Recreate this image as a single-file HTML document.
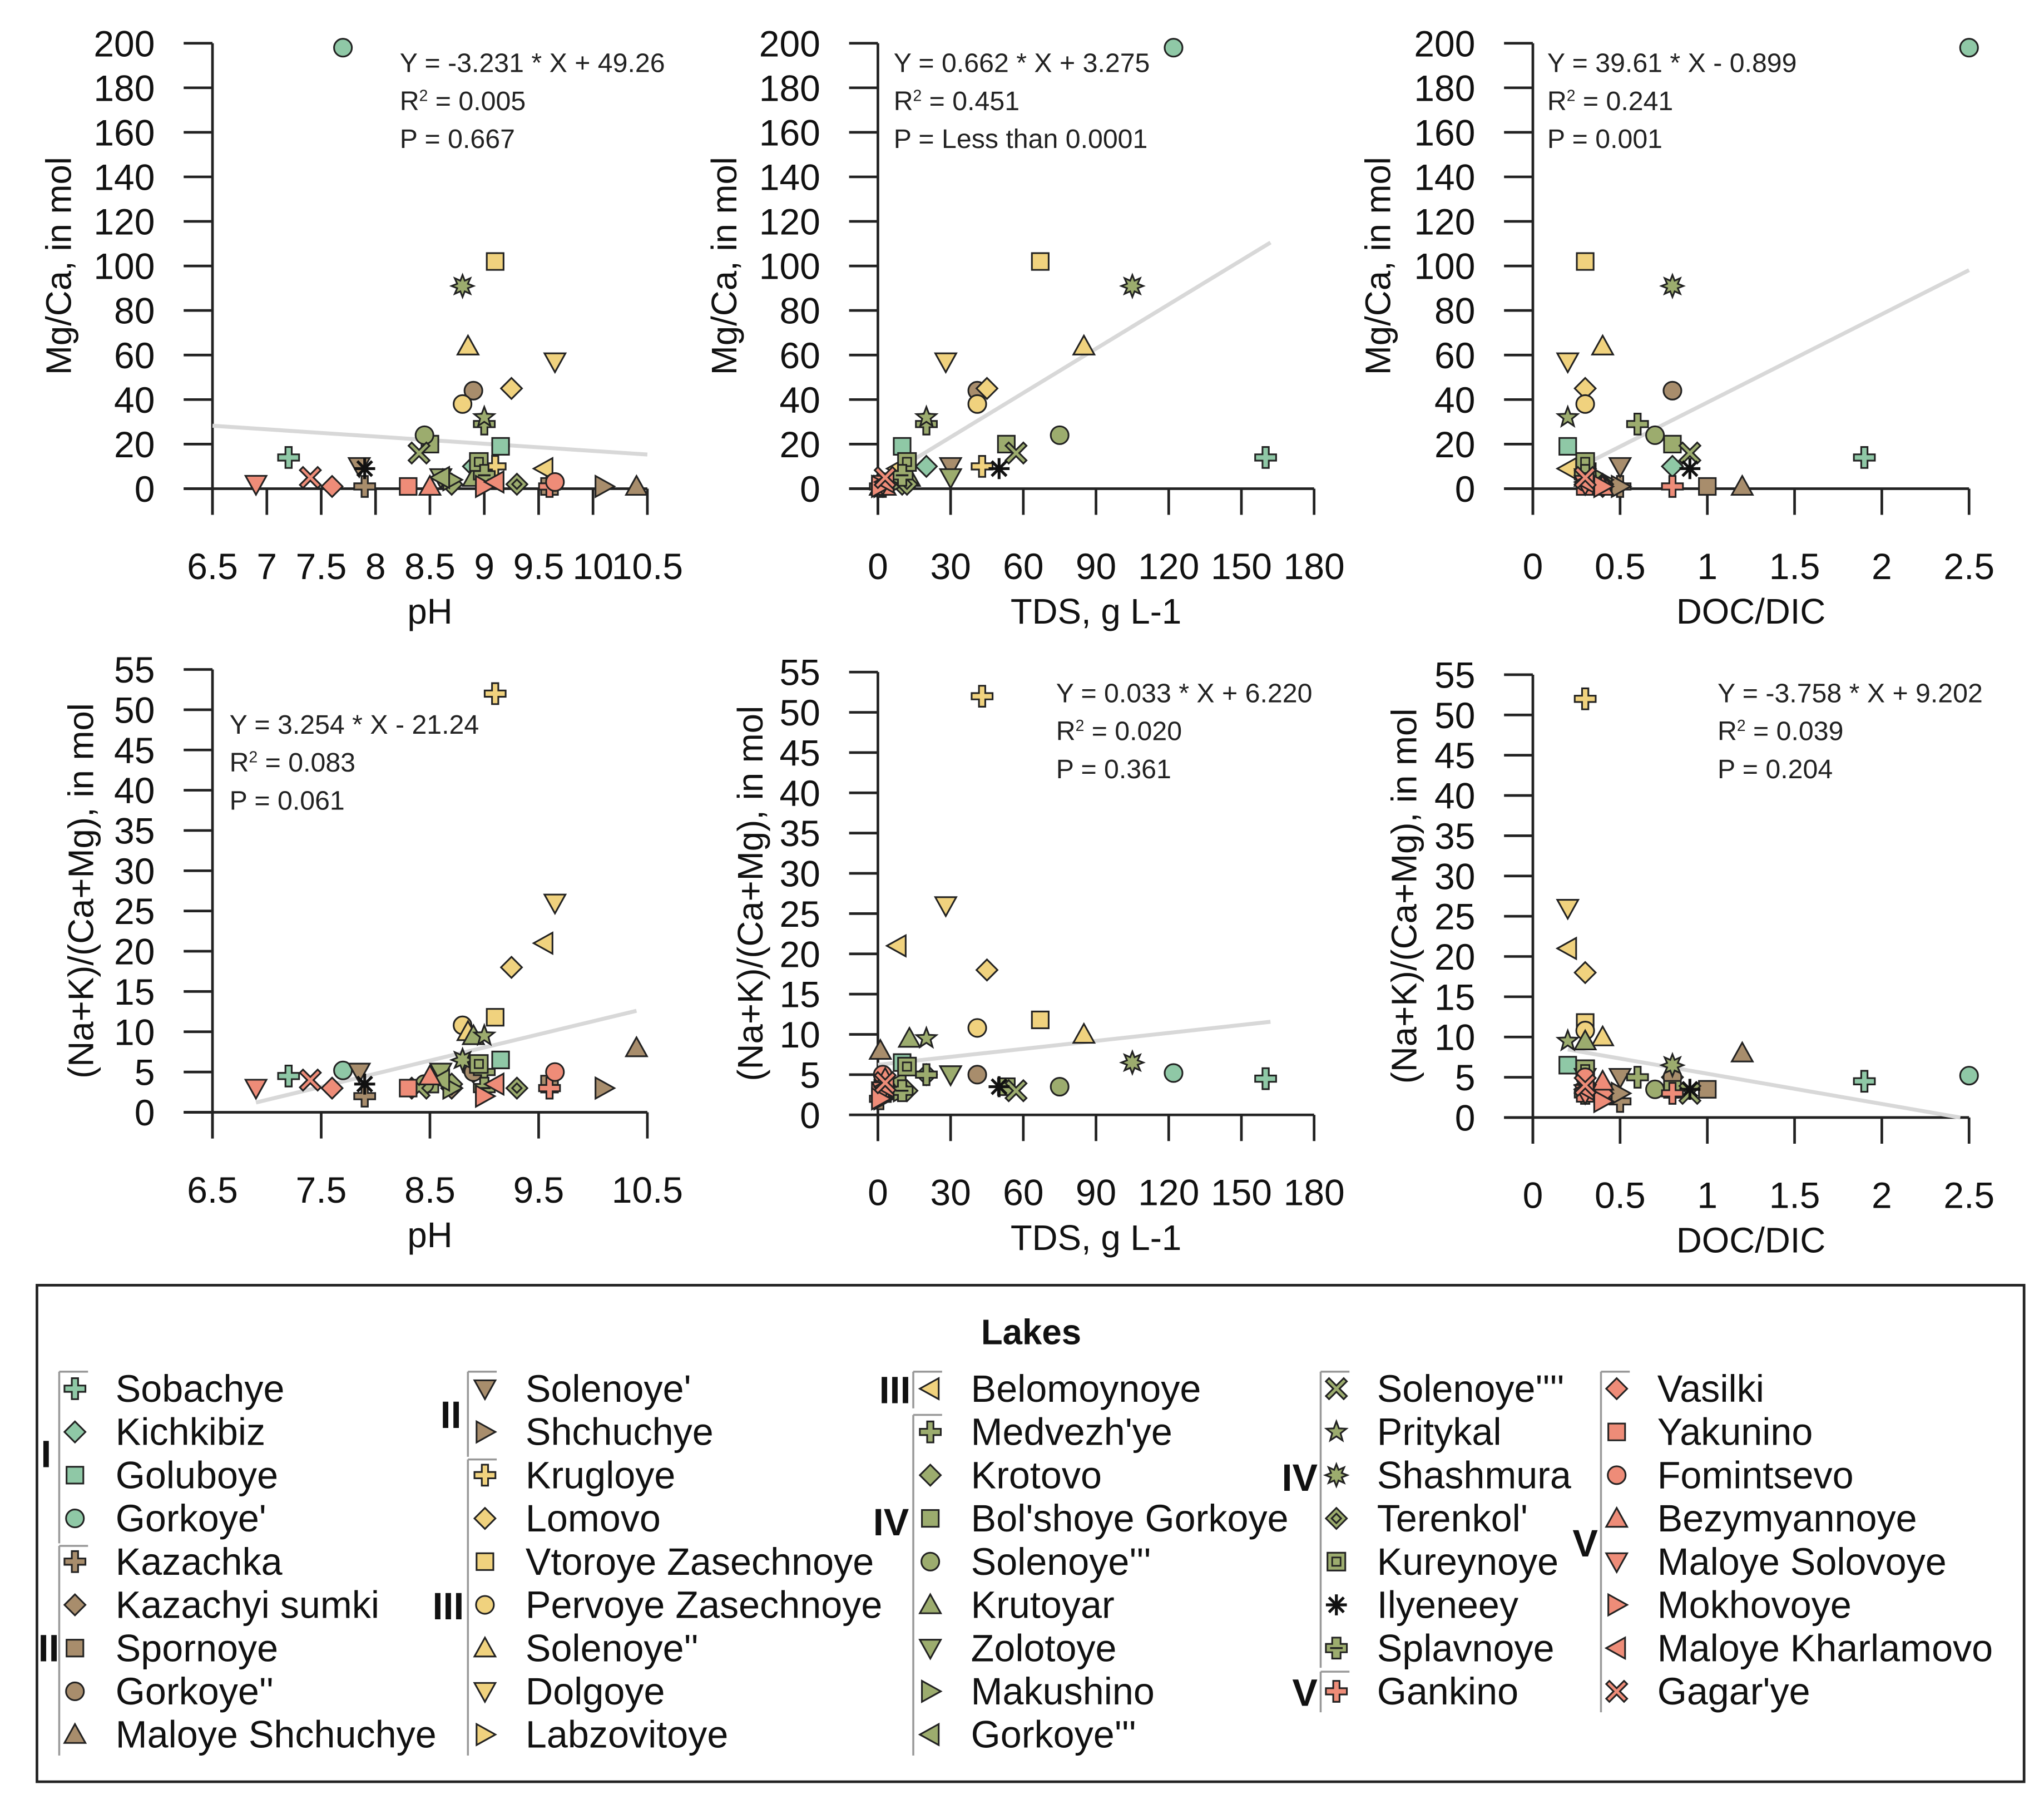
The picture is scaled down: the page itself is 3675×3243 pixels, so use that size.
<!DOCTYPE html>
<html><head><meta charset="utf-8"><style>
html,body{margin:0;padding:0;background:#fff;}
svg{display:block;font-family:"Liberation Sans",sans-serif;}
</style></head><body>
<svg id="chart" width="3675" height="3243" viewBox="0 0 1560 1377" xmlns="http://www.w3.org/2000/svg"></svg>
<script>
// ---- data (one entry per lake) ----
const lakeNames = ["Sobachye","Kichkibiz","Goluboye","Gorkoye'","Kazachka","Kazachyi sumki","Spornoye","Gorkoye''","Maloye Shchuchye","Solenoye'","Shchuchye","Krugloye","Lomovo","Vtoroye Zasechnoye","Pervoye Zasechnoye","Solenoye''","Dolgoye","Labzovitoye","Belomoynoye","Medvezh'ye","Krotovo","Bol'shoye Gorkoye","Solenoye'''","Krutoyar","Zolotoye","Makushino","Gorkoye'''","Solenoye''''","Pritykal","Shashmura","Terenkol'","Kureynoye","Ilyeneey","Splavnoye","Gankino","Vasilki","Yakunino","Fomintsevo","Bezymyannoye","Maloye Solovoye","Mokhovoye","Maloye Kharlamovo","Gagar'ye"];
const lakeGroups = [1,1,1,1,2,2,2,2,2,2,2,3,3,3,3,3,3,3,3,4,4,4,4,4,4,4,4,4,4,4,4,4,4,4,5,5,5,5,5,5,5,5,5];
const lakeShapes = ["plus","diamond","square","circle","plus","diamond","square","circle","tri-up","tri-down","tri-right","plus","diamond","square","circle","tri-up","tri-down","tri-right","tri-left","plus","diamond","square","circle","tri-up","tri-down","tri-right","tri-left","x","star","sun","fdiamond","fsquare","asterisk","tplus","plus","diamond","square","circle","tri-up","tri-down","tri-right","tri-left","x"];
const phValues    = [7.2,8.9,9.15,7.7,7.9,8.7,9.6,8.9,10.4,7.85,10.1,9.1,9.25,9.1,8.8,8.85,9.65,9.0,9.55,9.0,8.7,8.5,8.45,8.9,8.6,8.7,8.6,8.4,9.0,8.8,9.3,8.95,7.9,9.0,9.6,7.6,8.3,9.65,8.5,6.9,9.0,9.1,7.4];
const tdsValues   = [160,20,10,122,1,2,3,41,1,30,2,43,45,67,41,85,28,2,8,20,10,53,75,13,30,10,8,57,20,105,12,12,50,10,2,2,1,2,3,2,1,3,3];
const docValues   = [1.9,0.8,0.2,2.5,0.5,0.3,1.0,0.8,1.2,0.5,0.5,0.3,0.3,0.3,0.3,0.4,0.2,0.4,0.2,0.6,0.3,0.8,0.7,0.3,0.3,0.4,0.3,0.9,0.2,0.8,0.4,0.3,0.9,0.3,0.8,0.4,0.3,0.3,0.4,0.3,0.4,0.3,0.3];
const mgcaValues  = [14,10,19,198,1,2,1,44,1,10,1,10,45,102,38,64,57,1,9,29,2,20,24,5,5,4,5,16,32,91,2,12,9,6,1,1,1,3,1,2,1,3,5];
const nakValues   = [4.5,5,6.5,5.2,2,3,3.5,5,8,5,3,52,18,11.8,10.8,10,26,2,21,5,3.5,3.5,3.5,9.5,5,3,4,3,9.5,6.5,3,6,3.5,3,3,3,3,5,4.5,3,2,3.5,4];
// regression lines
const fitSlopes = [-3.231,0.662,39.61,3.254,0.033,-3.758];
const fitIntercepts = [49.26,3.275,-0.899,-21.24,6.220,9.202];
const fitRanges = [[6.5,10.5],[0,162],[0.2,2.5],[6.9,10.4],[0,162],[0.2,2.45]];
const annotTexts = [["Y = -3.231 * X + 49.26","0.005","P = 0.667"],["Y = 0.662 * X + 3.275","0.451","P = Less than 0.0001"],["Y = 39.61 * X - 0.899","0.241","P = 0.001"],["Y = 3.254 * X - 21.24","0.083","P = 0.061"],["Y = 0.033 * X + 6.220","0.020","P = 0.361"],["Y = -3.758 * X + 9.202","0.039","P = 0.204"]];
const phTicks = ["6.5","7","7.5","8","8.5","9","9.5","10","10.5"];
const phTicks2 = ["6.5","7.5","8.5","9.5","10.5"];
const tdsTicks = ["0","30","60","90","120","150","180"];
const docTicks = ["0","0.5","1","1.5","2","2.5"];
const mgTicks = [0,20,40,60,80,100,120,140,160,180,200];
const nakTicks = [0,5,10,15,20,25,30,35,40,45,50,55];

const groupColors = {1:"#8fc8a6",2:"#a88d6c",3:"#f0d27e",4:"#9cac6e",5:"#ee8c78"};
const NS="http://www.w3.org/2000/svg";
const svg=document.getElementById('chart');
function mk(tag,attrs,parent){const e=document.createElementNS(NS,tag);for(const k in attrs)e.setAttribute(k,attrs[k]);(parent||svg).appendChild(e);return e;}

function marker(g,shape,cx,cy,fill,r){
  const st={fill:fill,stroke:"#222","stroke-width":1.3};
  let el;
  const P=(pts)=>mk('polygon',Object.assign({points:pts.map(p=>(cx+p[0]*r)+','+(cy+p[1]*r)).join(' ')},st),g);
  switch(shape){
    case "circle": el=mk('circle',Object.assign({cx:cx,cy:cy,r:r*0.85},st),g);break;
    case "square": el=mk('rect',Object.assign({x:cx-r*0.8,y:cy-r*0.8,width:r*1.6,height:r*1.6},st),g);break;
    case "fsquare": el=mk('rect',Object.assign({x:cx-r*0.85,y:cy-r*0.85,width:r*1.7,height:r*1.7},st),g);
      mk('rect',{x:cx-r*0.4,y:cy-r*0.4,width:r*0.8,height:r*0.8,fill:"none",stroke:"#222","stroke-width":1.2},g);break;
    case "diamond": el=P([[0,-1],[1,0],[0,1],[-1,0]]);break;
    case "fdiamond": el=P([[0,-1],[1,0],[0,1],[-1,0]]);P([[0,-0.45],[0.45,0],[0,0.45],[-0.45,0]]);break;
    case "tri-up": el=P([[0,-1],[1,0.8],[-1,0.8]]);break;
    case "tri-down": el=P([[0,1],[1,-0.8],[-1,-0.8]]);break;
    case "tri-right": el=P([[1,0],[-0.8,-1],[-0.8,1]]);break;
    case "tri-left": el=P([[-1,0],[0.8,-1],[0.8,1]]);break;
    case "plus": el=P([[-0.3,-1],[0.3,-1],[0.3,-0.3],[1,-0.3],[1,0.3],[0.3,0.3],[0.3,1],[-0.3,1],[-0.3,0.3],[-1,0.3],[-1,-0.3],[-0.3,-0.3]]);break;
    case "tplus": el=P([[-0.4,-1],[0.4,-1],[0.4,-0.4],[1,-0.4],[1,0.4],[0.4,0.4],[0.4,1],[-0.4,1],[-0.4,0.4],[-1,0.4],[-1,-0.4],[-0.4,-0.4]]);
      mk('line',{x1:cx-r*0.6,y1:cy,x2:cx+r*0.6,y2:cy,stroke:"#222","stroke-width":1.5},g);break;
    case "x": {const a=0.3,b=1;el=P([[-b,-b+a],[-b+a,-b],[0,-a],[b-a,-b],[b,-b+a],[a,0],[b,b-a],[b-a,b],[0,a],[-b+a,b],[-b,b-a],[-a,0]]);break;}
    case "star": {const pts=[];for(let i=0;i<10;i++){const ang=-Math.PI/2+i*Math.PI/5;const rr=i%2?0.42:1;pts.push([rr*Math.cos(ang),rr*Math.sin(ang)]);}el=P(pts);break;}
    case "sun": {const pts=[];for(let i=0;i<16;i++){const ang=i*Math.PI/8;const rr=i%2?0.55:1.05;pts.push([rr*Math.cos(ang),rr*Math.sin(ang)]);}el=P(pts);break;}
    case "asterisk": for(let i=0;i<4;i++){const ang=i*Math.PI/4;mk('line',{x1:cx-r*Math.cos(ang),y1:cy-r*Math.sin(ang),x2:cx+r*Math.cos(ang),y2:cy+r*Math.sin(ang),stroke:"#111","stroke-width":2.2},g);}break;
  }
  return el;
}

// panels
const panels=[
 {x0:162,x1:494,xmin:6.5,xmax:10.5,yTop:33,yBot:373,ymax:200,xs:phValues,ys:mgcaValues,xt:phTicks,yt:mgTicks,xtitle:"pH",ytitle:"Mg/Ca, in mol",ytx:45,ann:[305,55],name:"ph-mgca"},
 {x0:670,x1:1003,xmin:0,xmax:180,yTop:33,yBot:373,ymax:200,xs:tdsValues,ys:mgcaValues,xt:tdsTicks,yt:mgTicks,xtitle:"TDS, g L-1",ytitle:"Mg/Ca, in mol",ytx:553,ann:[682,55],name:"tds-mgca"},
 {x0:1170,x1:1503,xmin:0,xmax:2.5,yTop:33,yBot:373,ymax:200,xs:docValues,ys:mgcaValues,xt:docTicks,yt:mgTicks,xtitle:"DOC/DIC",ytitle:"Mg/Ca, in mol",ytx:1052,ann:[1181,55],name:"doc-mgca"},
 {x0:162,x1:494,xmin:6.5,xmax:10.5,yTop:511,yBot:849,ymax:55,xs:phValues,ys:nakValues,xt:phTicks2,yt:nakTicks,xtitle:"pH",ytitle:"(Na+K)/(Ca+Mg), in mol",ytx:62,ann:[175,560],name:"ph-nak"},
 {x0:670,x1:1003,xmin:0,xmax:180,yTop:513,yBot:851,ymax:55,xs:tdsValues,ys:nakValues,xt:tdsTicks,yt:nakTicks,xtitle:"TDS, g L-1",ytitle:"(Na+K)/(Ca+Mg), in mol",ytx:573,ann:[806,536],name:"tds-nak"},
 {x0:1170,x1:1503,xmin:0,xmax:2.5,yTop:515,yBot:853,ymax:55,xs:docValues,ys:nakValues,xt:docTicks,yt:nakTicks,xtitle:"DOC/DIC",ytitle:"(Na+K)/(Ca+Mg), in mol",ytx:1072,ann:[1311,536],name:"doc-nak"}
];
panels.forEach((p,pi)=>{
  const g=mk('g',{});
  
  
  const sx=v=>p.x0+(v-p.xmin)/(p.xmax-p.xmin)*(p.x1-p.x0);
  const sy=v=>p.yBot-v/p.ymax*(p.yBot-p.yTop);
  const ya=mk('line',{x1:p.x0,y1:p.yTop,x2:p.x0,y2:p.yBot+20,stroke:"#222","stroke-width":2},g);
  
  const xa=mk('line',{x1:p.x0-22,y1:p.yBot,x2:p.x1,y2:p.yBot,stroke:"#222","stroke-width":2},g);
  
  p.yt.forEach(v=>{
    mk('line',{x1:p.x0-22,y1:sy(v),x2:p.x0,y2:sy(v),stroke:"#222","stroke-width":2},g);
    const t=mk('text',{x:p.x0-44,y:sy(v)+10,"text-anchor":"end","font-size":28,fill:"#111"},g);
    t.textContent=v;
    
  });
  p.xt.forEach(s=>{
    const v=parseFloat(s);
    mk('line',{x1:sx(v),y1:p.yBot,x2:sx(v),y2:p.yBot+20,stroke:"#222","stroke-width":2},g);
    const t=mk('text',{x:sx(v),y:p.yBot+69,"text-anchor":"middle","font-size":28,fill:"#111"},g);
    t.textContent=s;
    
  });
  const xt=mk('text',{x:(p.x0+p.x1)/2,y:p.yBot+103,"text-anchor":"middle","font-size":27,fill:"#111"},g);
  xt.textContent=p.xtitle;
  
  const cy=(p.yTop+p.yBot)/2;
  const yt=mk('text',{x:p.ytx,y:cy,"text-anchor":"middle","font-size":27,fill:"#111",transform:`rotate(-90 ${p.ytx} ${cy}) translate(0 9)`},g);
  yt.textContent=p.ytitle;
  
  const r=fitRanges[pi];
  const fl=mk('line',{x1:sx(r[0]),y1:sy(fitSlopes[pi]*r[0]+fitIntercepts[pi]),x2:sx(r[1]),y2:sy(fitSlopes[pi]*r[1]+fitIntercepts[pi]),stroke:"#d8d8d8","stroke-width":3},g);
  
  const a=annotTexts[pi];
  const t1=mk('text',{x:p.ann[0],y:p.ann[1],"font-size":20.5,fill:"#222"},g);t1.textContent=a[0];
  
  const t2=mk('text',{x:p.ann[0],y:p.ann[1]+29,"font-size":20.5,fill:"#222"},g);
  t2.innerHTML='R<tspan dy="-7" font-size="12">2</tspan><tspan dy="7"> = '+a[1]+'</tspan>';
  
  const t3=mk('text',{x:p.ann[0],y:p.ann[1]+58,"font-size":20.5,fill:"#222"},g);t3.textContent=a[2];
  
  p.xs.forEach((xv,i)=>{
    const m=marker(g,lakeShapes[i],sx(xv),sy(p.ys[i]),groupColors[lakeGroups[i]],8);
    if(m){
    }
  });
});

// legend
const lg=mk('g',{});


const box=mk('rect',{x:28,y:981,width:1517,height:379,fill:"none",stroke:"#222","stroke-width":2},lg);

const ttl=mk('text',{x:787,y:1026,"text-anchor":"middle","font-size":27,"font-weight":"bold",fill:"#111"},lg);
ttl.textContent="Lakes";
const cols=[[0,9,57],[9,18,370],[18,27,710],[27,35,1020],[35,43,1234]];
cols.forEach(c=>{
  for(let i=c[0];i<c[1];i++){
    const y=1060+(i-c[0])*33;
    marker(lg,lakeShapes[i],c[2],y,groupColors[lakeGroups[i]],8);
    const t=mk('text',{x:c[2]+31,y:y+10,"font-size":29,fill:"#111"},lg);
    t.textContent=lakeNames[i];
    
  }
});
[[45,1047,1178],[45,1180,1340],[357,1047,1112],[357,1114,1340],[697,1047,1075],[697,1080,1340],[1008,1047,1273],[1008,1276,1307],[1222,1047,1307]].forEach(b=>{
  mk('line',{x1:b[0],y1:b[1],x2:b[0],y2:b[2],stroke:"#999","stroke-width":1.5},lg);
  mk('line',{x1:b[0],y1:b[1],x2:b[0]+22,y2:b[1],stroke:"#999","stroke-width":1.5},lg);
});
[["I",35,1120],["II",37,1268],["II",344,1090],["III",342,1236],["III",683,1071],["IV",680,1172],["IV",992,1138],["V",996,1302],["V",1210,1188]].forEach(r=>{
  const t=mk('text',{x:r[1],y:r[2],"text-anchor":"middle","font-size":29,"font-weight":"bold",fill:"#111"},lg);
  t.textContent=r[0];
});
</script>
</body></html>
